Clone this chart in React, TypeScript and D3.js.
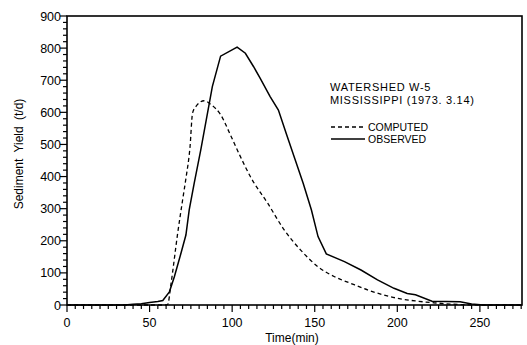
import React from 'react';
import * as d3 from 'd3';

// observed hydrograph (solid)
const observedTime = [0, 35, 40, 45, 50, 55, 58, 62, 65, 69, 72, 74, 77, 81, 88, 93, 103, 108, 113, 117, 123, 128, 133, 138, 143, 148, 152, 157, 168, 178, 188, 198, 206, 211, 221, 238, 245, 252, 275];
const observedYield = [0, 0, 2, 4, 8, 11, 14, 41, 88, 161, 218, 296, 379, 483, 680, 775, 803, 784, 742, 706, 649, 607, 530, 455, 379, 296, 213, 159, 135, 109, 78, 52, 36, 32, 12, 10, 3, 0, 0];

// computed hydrograph (dashed)
const computedTime = [0, 60, 61, 63, 67, 70, 72, 74.5, 76, 78, 83, 87.5, 93, 99, 105, 111, 121.5, 131.5, 141.5, 152, 162, 172, 182, 192, 202, 212, 222, 232, 252, 275];
const computedYield = [0, 0, 2, 67, 223, 327, 394, 493, 597, 618, 636, 623, 593, 529, 462, 400, 317, 234, 171, 119, 88, 67, 47, 31, 19, 12, 7, 3, 0, 0];

const xTickLabels = [0, 50, 100, 150, 200, 250];
const yTickLabels = [0, 100, 200, 300, 400, 500, 600, 700, 800, 900];

const titleLines = ['WATERSHED W-5', 'MISSISSIPPI (1973. 3.14)'];
const legendItems = [
  { label: 'COMPUTED', dash: '4,3' },
  { label: 'OBSERVED', dash: null },
];

const W = 527;
const H = 345;
const font = '"Liberation Sans", Arial, sans-serif';

export default function App() {
  const left = 67, right = 522, top = 16, bottom = 305;
  const x = d3.scaleLinear().domain([0, 275.5]).range([left, right]);
  const y = d3.scaleLinear().domain([0, 900]).range([bottom, top]);

  const obs = observedTime.map((t, i) => [t, observedYield[i]] as [number, number]);
  const comp = computedTime.map((t, i) => [t, computedYield[i]] as [number, number]);

  const lineObs = d3.line<[number, number]>().x(d => x(d[0])).y(d => y(d[1]));
  const lineComp = d3
    .line<[number, number]>()
    .x(d => x(d[0]))
    .y(d => y(d[1]))
    .curve(d3.curveMonotoneX);

  const xMinor = d3.range(0, 276, 5);
  const yMinor = d3.range(0, 901, 20);

  return (
    <svg width={W} height={H} style={{ position: 'absolute', left: 0, top: 0, background: '#fff' }}>
      <rect x={left} y={top} width={right - left} height={bottom - top} fill="none" stroke="#000" strokeWidth={1.6} />

      {/* x ticks */}
      {xMinor.map(t => (
        <line key={'xt' + t} x1={x(t)} x2={x(t)} y1={bottom} y2={bottom + (t % 50 === 0 ? 7 : 4)} stroke="#000" strokeWidth={1.2} />
      ))}
      {xTickLabels.map(t => (
        <text key={'xl' + t} x={x(t)} y={327} textAnchor="middle" fontFamily={font} fontSize={12.5}>
          {t}
        </text>
      ))}

      {/* y ticks */}
      {yMinor.map(v => (
        <line key={'yt' + v} x1={left} x2={left - (v % 100 === 0 ? 7 : 4)} y1={y(v)} y2={y(v)} stroke="#000" strokeWidth={1.2} />
      ))}
      {yTickLabels.map(v => (
        <text key={'yl' + v} x={left - 6} y={y(v) + 4.5} textAnchor="end" fontFamily={font} fontSize={12.5}>
          {v}
        </text>
      ))}

      <text x={292} y={342} textAnchor="middle" fontFamily={font} fontSize={12}>
        Time(min)
      </text>
      <text
        transform={`translate(23 ${154}) rotate(-90)`}
        textAnchor="middle"
        fontFamily={font}
        fontSize={12}
        wordSpacing={3}
      >
        Sediment Yield (t/d)
      </text>

      <path d={lineComp(comp) || ''} fill="none" stroke="#000" strokeWidth={1.3} strokeDasharray="4,3" />
      <path d={lineObs(obs) || ''} fill="none" stroke="#000" strokeWidth={1.5} />

      {titleLines.map((s, i) => (
        <text key={s} x={330} y={91 + i * 13} fontFamily={font} fontSize={11} letterSpacing={0.7}>
          {s}
        </text>
      ))}
      {legendItems.map((d, i) => (
        <g key={d.label}>
          <line x1={331} x2={365} y1={127 + i * 12} y2={127 + i * 12} stroke="#000" strokeWidth={1.3} strokeDasharray={d.dash || undefined} />
          <text x={368} y={131 + i * 12} fontFamily={font} fontSize={10.5}>
            {d.label}
          </text>
        </g>
      ))}
    </svg>
  );
}
